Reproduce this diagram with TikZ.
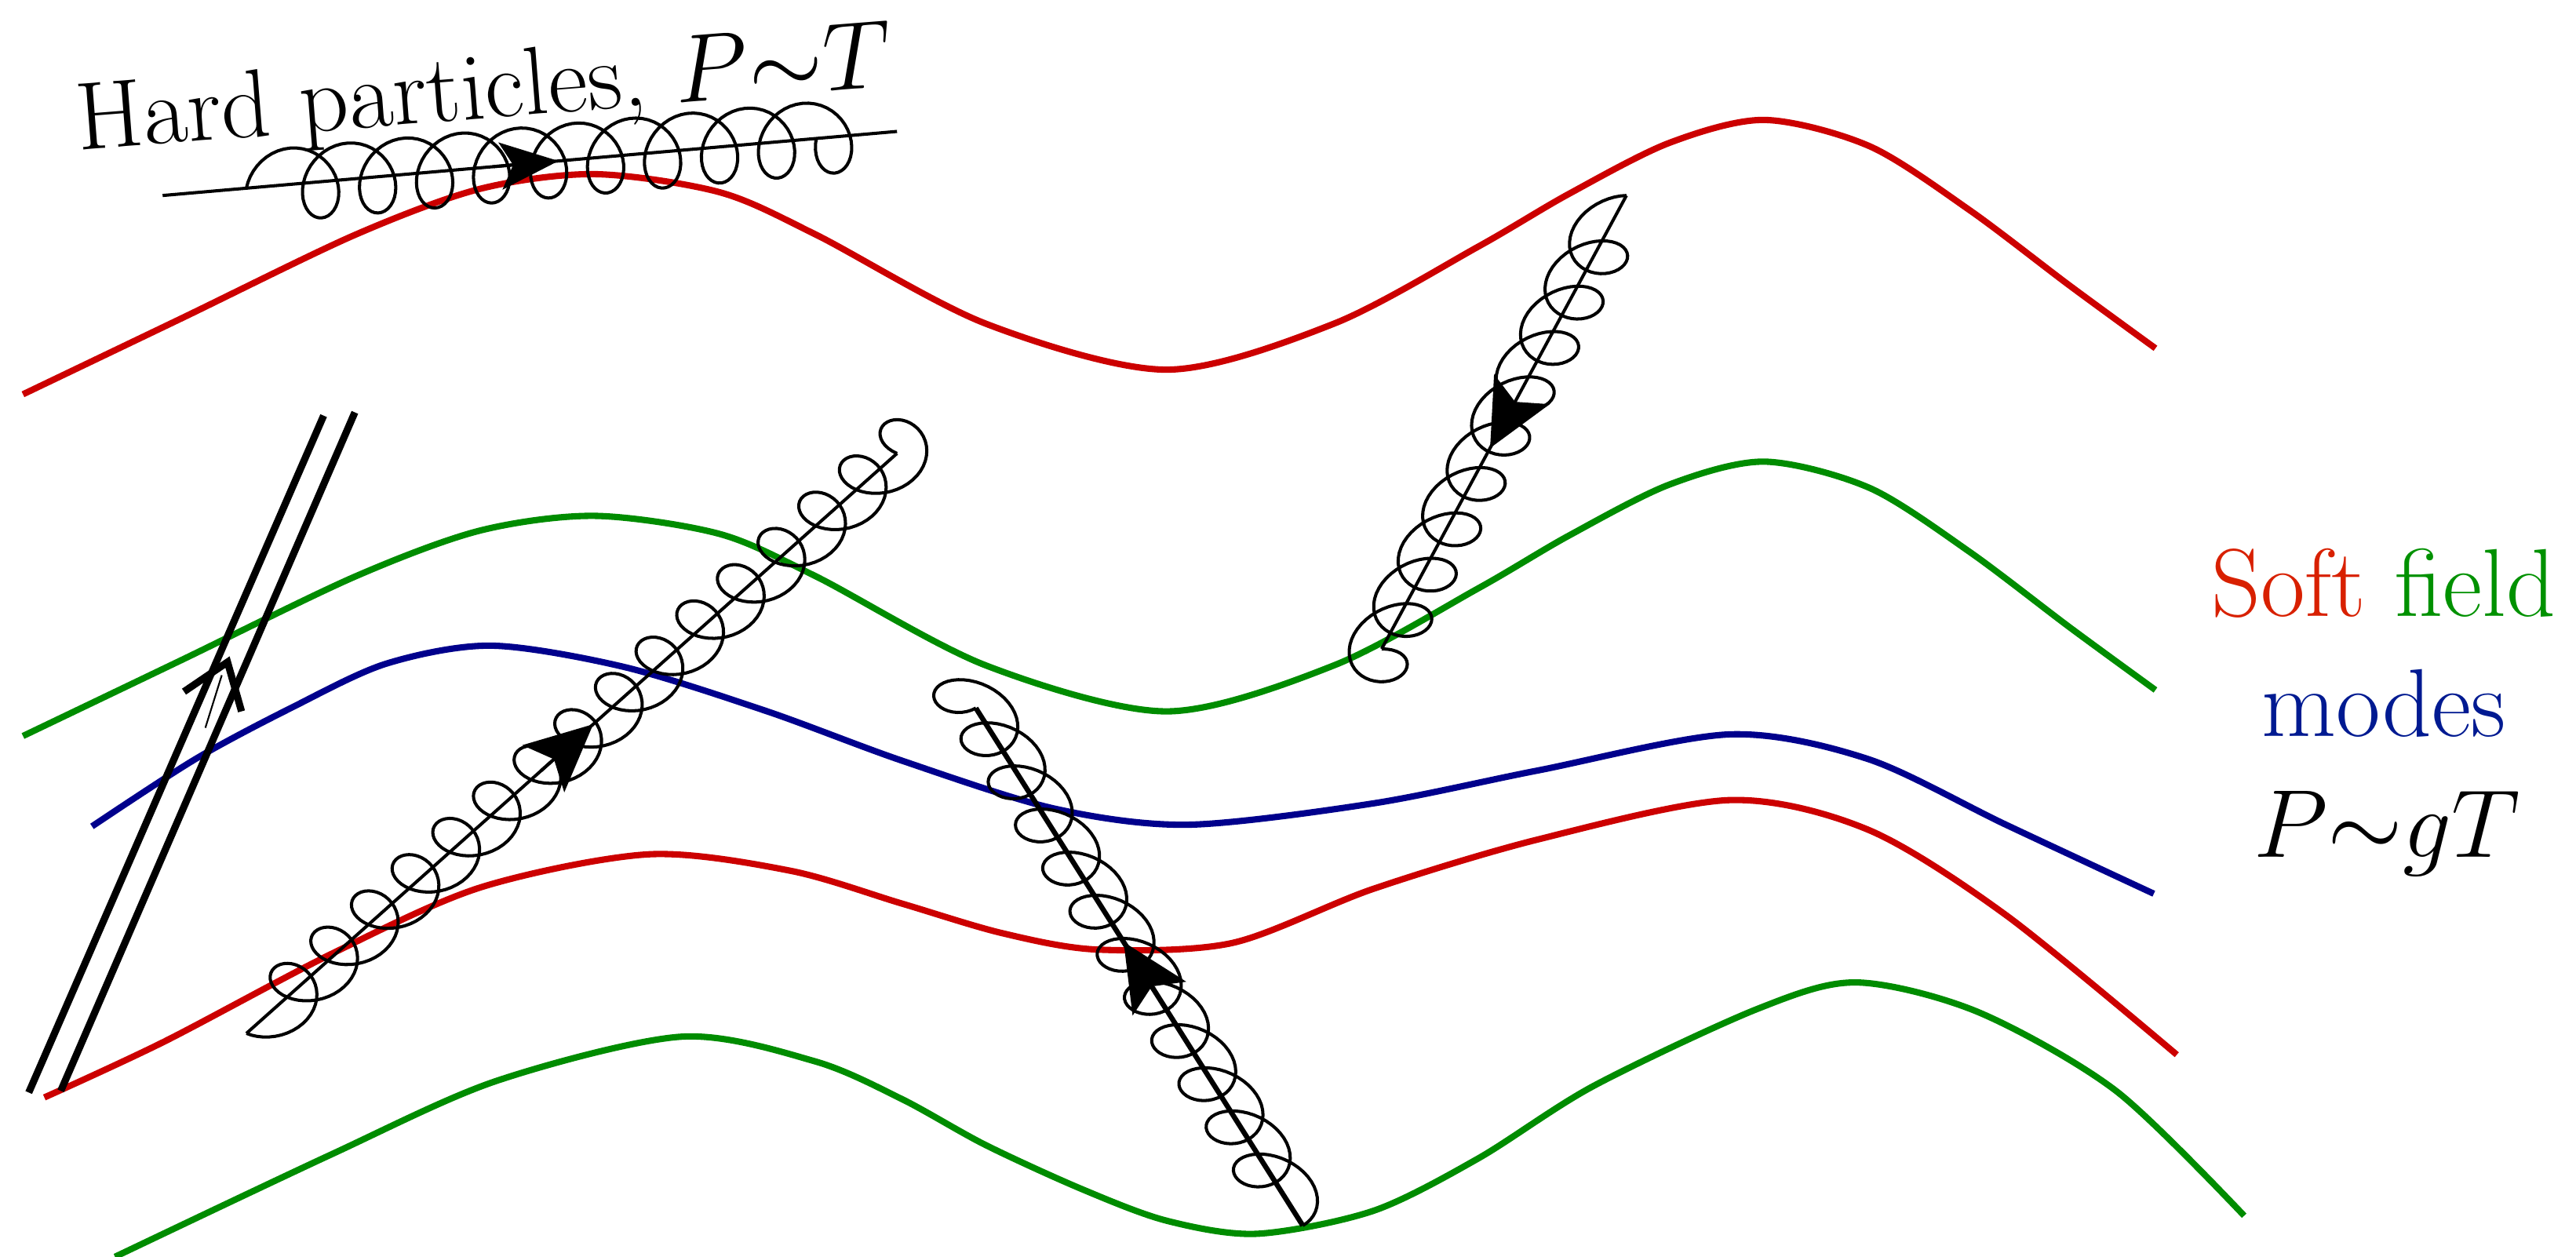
\RequirePackage{fix-cm}
\documentclass[tikz,border=0pt]{standalone}
\usepackage{tikz}
\usetikzlibrary{arrows.meta,calc}
\definecolor{wavered}{HTML}{CC0000}
\definecolor{wavegreen}{HTML}{008C00}
\definecolor{waveblue}{HTML}{00008C}
\definecolor{labelred}{HTML}{D82000}
\definecolor{labelgreen}{HTML}{009100}
\definecolor{labelblue}{HTML}{001A91}

\tikzset{
  wave/.style={line width=2.3pt},
  gluonline/.style={line width=1.15pt},
  coilline/.style={line width=1.15pt, line join=round},
  hardline/.style={line width=2.6pt},
  midarrow/.style={-{Stealth[length=8.5mm, width=8mm, inset=1.8mm]}},
}

\begin{document}
\begin{tikzpicture}[x=0.2094mm, y=-0.2094mm, font=\fontsize{35}{42}\selectfont]
  \useasboundingbox (0,0) rectangle (1568,765);

  % soft field modes
  \draw[wave, wavered] plot[smooth] coordinates {(14,240) (110,194) (216,143) (292,115) (362,106) (438,117) (497,143) (600,197) (710,225) (812,197) (900,150) (955,118) (1016,87) (1074,73) (1138,89) (1199,128) (1260,174) (1312,212)};
  \draw[wave, wavegreen, shift={(0,208)}] plot[smooth] coordinates {(14,240) (110,194) (216,143) (292,115) (362,106) (438,117) (497,143) (600,197) (710,225) (812,197) (900,150) (955,118) (1016,87) (1074,73) (1138,89) (1199,128) (1260,174) (1312,212)};
  \draw[wave, waveblue] plot[smooth] coordinates {(56,503) (119,462) (177,431) (235,404) (299,393) (380,406) (467,433) (549,463) (641,492) (723,502) (836,489) (936,469) (1053,447) (1137,462) (1221,502) (1311,544)};
  \draw[wave, wavered] plot[smooth] coordinates {(27,668) (100,634) (203,580) (293,540) (395,520) (481,530) (549,550) (610,568) (668,578) (750,574) (836,541) (936,511) (1053,487) (1137,505) (1221,557) (1325,642)};
  \draw[wave, wavegreen] plot[smooth] coordinates {(70,765) (201,703) (302,658) (415,631) (496,646) (549,669) (600,697) (659,724) (710,743) (765,751) (836,737) (900,705) (970,661) (1070,614) (1130,598) (1204,616) (1288,664) (1366,740)};

  % hard particle, double line
  \coordinate (qa1) at (17.5,665);
  \coordinate (qa2) at (197,253);
  \coordinate (qb1) at (37,664);
  \coordinate (qb2) at (216,251);
  \draw[hardline] (qa1) -- (qa2);
  \draw[hardline] (qb1) -- (qb2);
  \coordinate (chtip) at (138.5,403);
  \coordinate (chl) at (112,421);
  \coordinate (chr) at (147,433);
  \draw[hardline, line join=miter] (chl) -- (chtip) -- (chr);
  \draw[line width=0.6pt] (135,411) -- (125,443);

  % gluons
  \coordinate (g1s) at (99,119);
  \coordinate (g1e) at (546,80);
  \coordinate (g1a) at (149.96,114.55);
  \coordinate (g1b) at (496.8,84.3);
  \coordinate (g2s) at (150,629);
  \coordinate (g2e) at (546,276);
  \coordinate (g3s) at (990,119);
  \coordinate (g3e) at (841,395);
  \coordinate (g4s) at (793,746);
  \coordinate (g4e) at (594,431);

  \draw[gluonline] (g1s) -- (g1e);
  \draw[gluonline] (g2s) -- (g2e);
  \draw[gluonline] (g3s) -- (g3e);
  \draw[line width=1.85pt] (g4s) -- (g4e);

  % loops: n turns along (dx,dy), u = sine half-axis, w = cosine half-axis
  \foreach \a/\n/\dx/\dy/\ux/\uy/\wx/\wy in {g1a/10/346.9/-30.3/-1/-22/18.9/-1.65, g2s/16/396/-353/14.9/11.4/13.4/-12.0, g3s/10/-149/276/-19.5/-4/-8.55/15.8, g4s/12/-199/-315/19/-5/-9.6/-15.2} {
    \pgfmathsetmacro{\dend}{360*\n}
    \pgfmathtruncatemacro{\ns}{40*\n}
    \draw[coilline, shift={(\a)}] plot[domain=0:\dend, samples=\ns, variable=\t]
      ({(\t/\dend)*\dx + \ux*sin(\t) + \wx*(1-cos(\t))}, {(\t/\dend)*\dy + \uy*sin(\t) + \wy*(1-cos(\t))});
  }

  \draw[gluonline, -{Stealth[length=7.4mm, width=6mm, inset=1.6mm]}] ($(g1s)!0.45!(g1e)$) -- ($(g1s)!0.539!(g1e)$);
  \foreach \g/\t/\w in {g2/0.533/1.15pt, g3/0.557/1.15pt, g4/0.548/1.85pt} {
    \draw[line width=\w, midarrow] ($(\g s)!\t-0.08!(\g e)$) -- ($(\g s)!\t!(\g e)$);
  }

  % labels
  \node[rotate=4.5, anchor=base, inner sep=0pt] (hard) at (296,72) {Hard particles, $P{\sim}T$};
  \node[anchor=base] (soft) at (1451,375) {\textcolor{labelred}{Soft} \textcolor{labelgreen}{field}};
  \node[anchor=base, text=labelblue] (modes) at (1451,448) {modes};
  \node[anchor=base] (scale) at (1453,522) {$P{\sim}gT$};
\end{tikzpicture}
\end{document}
